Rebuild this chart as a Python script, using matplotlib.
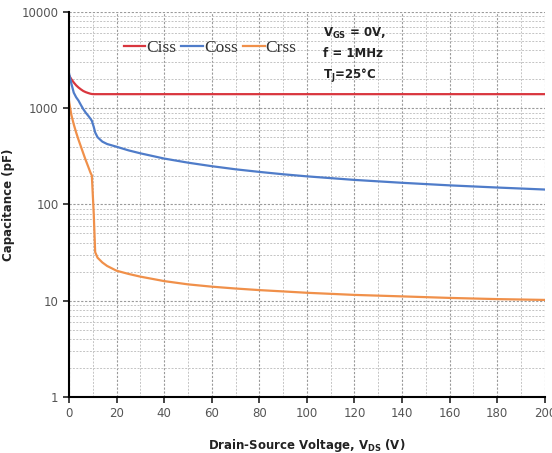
import matplotlib
matplotlib.use("Agg")
import matplotlib.pyplot as plt
from matplotlib.ticker import LogLocator, MultipleLocator, NullFormatter

VDS = [0, 1, 2, 3, 4, 5, 6, 7, 8, 9, 9.6, 10.4, 11, 12, 14, 16, 20, 25, 30, 40,
       50, 60, 70, 80, 90, 100, 120, 140, 160, 180, 200]
CISS = [2200, 2000, 1850, 1730, 1640, 1570, 1510, 1470, 1440, 1415, 1405, 1400,
        1400, 1400, 1400, 1400, 1400, 1400, 1400, 1400, 1400, 1400, 1400, 1400,
        1400, 1400, 1400, 1400, 1400, 1400, 1400]
COSS = [2300, 1800, 1450, 1300, 1200, 1080, 980, 900, 840, 780, 740, 640, 560,
        500, 450, 425, 398, 365, 340, 300, 272, 250, 232, 218, 206, 196, 180, 168,
        158, 150, 143]
CRSS = [1180, 850, 680, 560, 470, 400, 340, 290, 250, 215, 200, 80, 32, 28, 25,
        23, 20.5, 19, 17.8, 16, 14.8, 14, 13.4, 12.9, 12.5, 12.1, 11.5, 11.1, 10.7,
        10.4, 10.2]

RED = "#d9363e"
BLUE = "#4f7cc9"
ORANGE = "#f0904a"

fig = plt.figure(figsize=(5.52, 4.53), dpi=100)
ax = fig.add_axes([0.125, 0.1236, 0.862, 0.85])

ax.plot(VDS, CISS, color=RED, lw=1.6, label="Ciss")
ax.plot(VDS, COSS, color=BLUE, lw=1.6, label="Coss")
ax.plot(VDS, CRSS, color=ORANGE, lw=1.6, label="Crss")

ax.set_yscale("log")
ax.set_xlim(0, 200)
ax.set_ylim(1, 10000)
ax.xaxis.set_major_locator(MultipleLocator(20))
ax.xaxis.set_minor_locator(MultipleLocator(10))
ax.yaxis.set_minor_locator(LogLocator(base=10, subs=range(2, 10), numticks=20))
ax.yaxis.set_minor_formatter(NullFormatter())
ax.set_yticks([1, 10, 100, 1000, 10000])
ax.set_yticklabels(["1", "10", "100", "1000", "10000"])

ax.grid(which="major", color="#9a9a9a", ls=(0, (2, 1.5)), lw=0.8)
ax.grid(which="minor", color="#c4c4c4", ls=(0, (2, 1.5)), lw=0.7)
ax.tick_params(which="minor", length=0)
ax.tick_params(which="major", length=4, width=1.2, colors="#222222",
               labelsize=8.5, labelcolor="#555555")
for s in ("top", "right"):
    ax.spines[s].set_visible(False)
for s in ("left", "bottom"):
    ax.spines[s].set_linewidth(1.5)

ax.set_xlabel("Drain-Source Voltage, V$_{\\mathregular{DS}}$ (V)",
              fontweight="bold", fontsize=8.5, color="#222222")
ax.set_ylabel("Capacitance (pF)", fontweight="bold", fontsize=8.5,
              color="#222222")
ax.xaxis.set_label_coords(0.5, -0.104)
ax.yaxis.set_label_coords(-0.113, 0.5)

ax.legend(loc="upper left", bbox_to_anchor=(0.1, 0.945), ncol=3, frameon=False,
          prop={"family": "Liberation Serif", "size": 12.5}, handlelength=1.25,
          handletextpad=0.05, columnspacing=0.3, borderaxespad=0,
          labelcolor="#333333")

cond = "V$_{\\mathregular{GS}}$ = 0V,\nf = 1MHz\nT$_{\\mathregular{J}}$=25°C"
ax.text(0.533, 0.965, cond, transform=ax.transAxes, ha="left", va="top",
        fontsize=8.5, fontweight="bold", linespacing=1.6, color="#222222")

fig.savefig("out.png", dpi=100)
